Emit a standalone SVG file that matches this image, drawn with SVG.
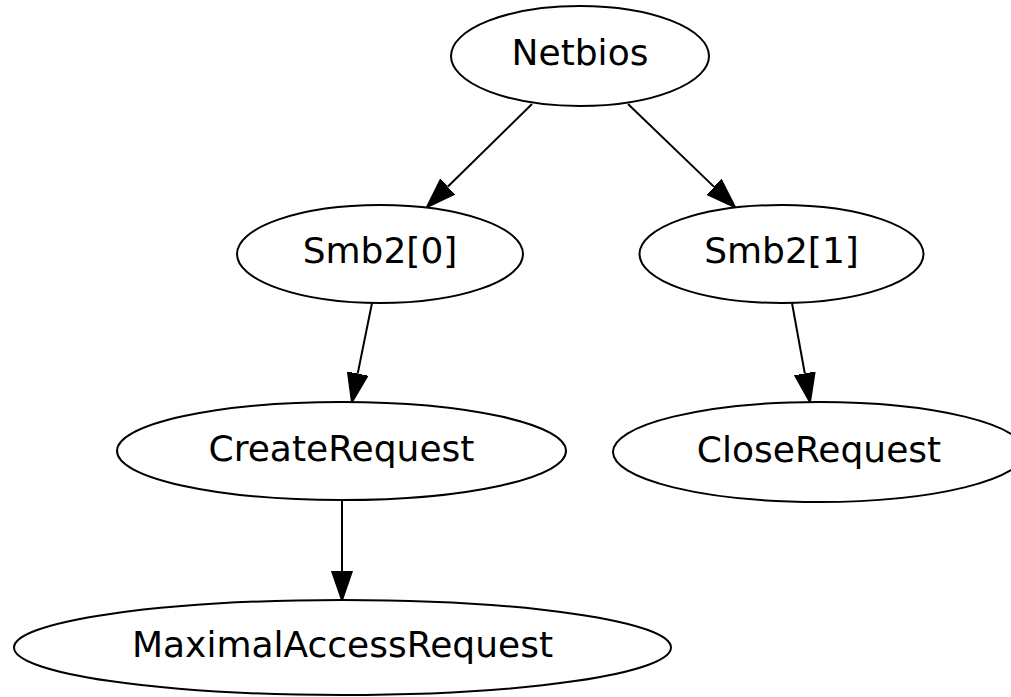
<svg xmlns="http://www.w3.org/2000/svg" width="1011" height="697" viewBox="0 0 1011 697">
<style>
.node ellipse{fill:#fff;stroke:#000;stroke-width:2}
.node text{font-family:"DejaVu Sans",sans-serif;font-size:36px;text-anchor:middle;fill:#000}
.edge{stroke:#000;stroke-width:2;fill:none;marker-end:url(#arr)}
</style>
<defs>
<marker id="arr" markerUnits="userSpaceOnUse" viewBox="0 -11 31 22" refX="0" refY="0" markerWidth="31" markerHeight="22" orient="auto">
<path d="M0,-10 L29,0 L0,10 Z" fill="#000" stroke="#000" stroke-width="2"/>
</marker>
</defs>
<rect width="1011" height="697" fill="#fff"/>
<g id="connectors">
<line class="edge" x1="532" y1="104" x2="447.7" y2="186.7"/>
<line class="edge" x1="628" y1="104" x2="714.1" y2="186.9"/>
<line class="edge" x1="372" y1="303" x2="357.7" y2="373.6"/>
<line class="edge" x1="792" y1="303" x2="804.8" y2="373.5"/>
<line class="edge" x1="342" y1="500" x2="342" y2="571"/>
</g>
<g id="node-netbios" class="node"><ellipse cx="580" cy="56" rx="129" ry="50"/><text x="580" y="64.5">Netbios</text></g>
<g id="node-smb2-0" class="node"><ellipse cx="380" cy="254" rx="143" ry="49"/><text x="380" y="263">Smb2[0]</text></g>
<g id="node-smb2-1" class="node"><ellipse cx="781.5" cy="254" rx="142" ry="49"/><text x="781.5" y="263">Smb2[1]</text></g>
<g id="node-createrequest" class="node"><ellipse cx="341.5" cy="451" rx="224.5" ry="49"/><text x="341.5" y="461">CreateRequest</text></g>
<g id="node-closerequest" class="node"><ellipse cx="819" cy="452" rx="206" ry="50"/><text x="819" y="461.5">CloseRequest</text></g>
<g id="node-maximalaccessrequest" class="node"><ellipse cx="342.5" cy="647.5" rx="328.5" ry="47.5"/><text x="342.5" y="657">MaximalAccessRequest</text></g>
</svg>
